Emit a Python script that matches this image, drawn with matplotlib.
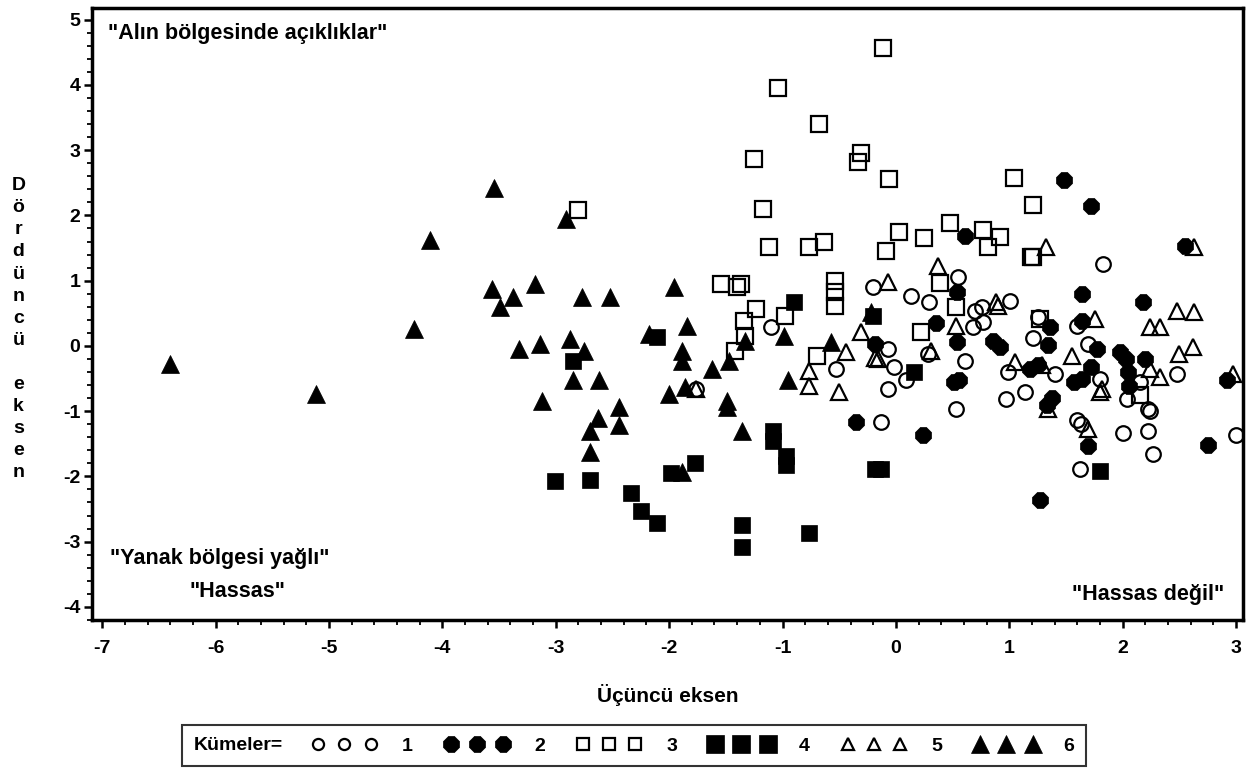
import matplotlib
matplotlib.use("Agg")
import matplotlib.pyplot as plt
from matplotlib.lines import Line2D
from matplotlib.offsetbox import HPacker
from matplotlib.ticker import MultipleLocator

plt.rcParams['font.family'] = ['Liberation Sans', 'DejaVu Sans']
plt.rcParams['font.weight'] = 'bold'

# ---- data ----
# Cluster 1 : open circles
c1_x = [-1.10, -0.20, 0.13, 0.29, 0.55, -0.07, -0.53, -0.02, -0.07, 0.09, 0.28, 0.61,
        0.53, -0.13, -1.76, 0.68, 1.83, 1.01, 0.76, 0.70, 0.77, 1.25, 1.21, 1.69, 1.60,
        0.99, 1.40, 0.97, 1.14, 1.80, 2.04, 2.22, 2.48, 2.15, 2.24, 1.60, 1.63, 2.00,
        2.22, 2.27, 1.62, 3.00]
c1_y = [0.29, 0.91, 0.76, 0.67, 1.05, -0.05, -0.35, -0.32, -0.66, -0.53, -0.12, -0.23,
        -0.96, -1.17, -0.66, 0.29, 1.25, 0.69, 0.59, 0.53, 0.37, 0.44, 0.12, 0.03, 0.31,
        -0.40, -0.43, -0.81, -0.70, -0.50, -0.81, -0.96, -0.43, -0.55, -1.00, -1.14, -1.20,
        -1.34, -1.31, -1.65, -1.88, -1.37]
# Cluster 2 : filled octagons
c2_x = [1.48, 1.72, 0.61, 2.55, 1.64, 2.18, 0.54, 1.64, 1.36, 0.35, 0.54, -0.18, 0.86,
        0.92, 1.34, 1.77, 1.98, 2.03, 2.20, 2.05, 2.06, 1.18, 1.72, 1.57, 1.64, 0.51,
        0.56, 1.38, 1.33, 0.24, -0.35, 1.69, 1.27, 2.75, 2.92, 1.25]
c2_y = [2.55, 2.14, 1.68, 1.53, 0.79, 0.67, 0.82, 0.38, 0.29, 0.35, 0.06, 0.03, 0.08,
        -0.02, 0.02, -0.04, -0.10, -0.20, -0.20, -0.40, -0.62, -0.35, -0.32, -0.55, -0.50,
        -0.56, -0.52, -0.80, -0.91, -1.37, -1.17, -1.54, -2.36, -1.52, -0.53, -0.30]
# Cluster 3 : open squares
c3_x = [-0.11, -1.04, -0.68, -1.25, -0.31, -0.33, -0.06, -2.80, -1.17, -1.12, -0.77, -0.63,
        -0.09, 0.03, -1.54, -1.40, -1.37, -0.54, -0.54, -0.54, 1.04, 1.21, 0.25, 0.48, 0.77,
        0.92, 0.81, 1.19, 1.21, 0.39, -1.23, -1.34, -0.98, -1.33, -1.42, -0.70, 0.53,
        0.22, 2.15, 1.27]
c3_y = [4.56, 3.96, 3.40, 2.87, 2.96, 2.82, 2.56, 2.09, 2.10, 1.52, 1.52, 1.59,
        1.46, 1.74, 0.95, 0.91, 0.95, 0.99, 0.82, 0.61, 2.58, 2.16, 1.66, 1.89, 1.78,
        1.67, 1.51, 1.37, 1.37, 0.97, 0.56, 0.38, 0.46, 0.15, -0.08, -0.15, 0.59,
        0.21, -0.76, 0.41]
# Cluster 4 : filled squares
c4_x = [-3.01, -2.70, -2.34, -2.25, -2.11, -1.98, -1.77, -1.08, -1.08, -0.97, -0.97, -0.18,
        -0.13, -1.36, -1.36, -0.77, -2.85, -2.11, -0.90, -0.20, 0.16, 1.80]
c4_y = [-2.07, -2.06, -2.26, -2.53, -2.71, -1.95, -1.80, -1.31, -1.46, -1.69, -1.83, -1.88,
        -1.88, -2.74, -3.09, -2.87, -0.23, 0.14, 0.67, 0.46, -0.40, -1.92]
# Cluster 5 : open triangles
c5_x = [-0.07, 0.37, 0.53, -0.31, -0.44, -0.77, -0.77, -0.50, -0.16, 0.31, -1.76, 1.32,
        2.63, 0.88, 0.90, 2.48, 2.63, 1.76, 2.24, 2.33, 1.55, 2.50, 2.62, 1.05, 1.29,
        2.33, 2.24, 1.82, 1.80, 1.34, 2.97, 1.69, -0.18]
c5_y = [0.98, 1.22, 0.30, 0.21, -0.09, -0.38, -0.61, -0.70, -0.20, -0.08, -0.66, 1.51,
        1.51, 0.67, 0.61, 0.53, 0.52, 0.41, 0.29, 0.29, -0.15, -0.12, -0.02, -0.24, -0.30,
        -0.47, -0.35, -0.66, -0.70, -0.96, -0.43, -1.27, -0.18]
# Cluster 6 : filled triangles
c6_x = [-6.40, -5.11, -4.25, -4.11, -3.54, -3.56, -3.49, -3.38, -3.32, -3.18, -3.14, -3.12,
        -2.91, -2.87, -2.85, -2.77, -2.75, -2.70, -2.70, -2.63, -2.62, -2.52, -2.44, -2.44,
        -2.18, -1.96, -1.84, -1.89, -1.89, -2.00, -1.86, -1.89, -1.62, -1.47, -1.33, -1.49,
        -1.49, -1.36, -0.99, -0.95, -0.57, -0.22]
c6_y = [-0.27, -0.73, 0.26, 1.62, 2.42, 0.87, 0.59, 0.75, -0.05, 0.95, 0.03, -0.85,
        1.95, 0.11, -0.53, 0.75, -0.08, -1.30, -1.62, -1.11, -0.53, 0.75, -0.93, -1.22,
        0.18, 0.90, 0.30, -0.08, -0.23, -0.73, -0.63, -1.94, -0.35, -0.23, 0.08, -0.85,
        -0.93, -1.30, 0.15, -0.53, 0.06, 0.52]

cluster_labels = ["1", "2", "3", "4", "5", "6"]
x_ticks = [-7, -6, -5, -4, -3, -2, -1, 0, 1, 2, 3]
y_ticks = [-4, -3, -2, -1, 0, 1, 2, 3, 4, 5]

# ---- styles ----
styles = [
    dict(marker='o', ms=10.5, mfc='none', mec='black', mew=1.6),
    dict(marker='8', ms=13, mfc='black', mec='black', mew=0.5),
    dict(marker='s', ms=11, mfc='none', mec='black', mew=1.6),
    dict(marker='s', ms=12, mfc='black', mec='black', mew=0.5),
    dict(marker='^', ms=12, mfc='none', mec='black', mew=1.6),
    dict(marker='^', ms=13, mfc='black', mec='black', mew=0.5),
]
legend_ms = [8, 13, 8, 13, 8, 13]

fig = plt.figure(figsize=(12.51, 7.71), dpi=100)
ax = fig.add_axes([0.0735, 0.196, 0.92, 0.7936])

series = [(c1_x, c1_y), (c2_x, c2_y), (c3_x, c3_y), (c4_x, c4_y), (c5_x, c5_y), (c6_x, c6_y)]
for (xs, ys), st in zip(series, styles):
    ax.plot(xs, ys, linestyle='none', **st)

ax.set_xlim(-7.09, 3.06)
ax.set_ylim(-4.20, 5.18)
ax.set_xticks(x_ticks)
ax.set_yticks(y_ticks)
ax.set_xticklabels([str(t) for t in x_ticks])
ax.set_yticklabels([str(t) for t in y_ticks])
ax.xaxis.set_minor_locator(MultipleLocator(0.2))
ax.yaxis.set_minor_locator(MultipleLocator(0.2))
ax.tick_params(which='major', direction='out', length=5.5, width=1.8, labelsize=14)
ax.tick_params(axis='y', which='major', pad=3)
ax.tick_params(axis='x', which='major', pad=9)
ax.tick_params(which='minor', direction='out', length=3.5, width=1.3)
for lab in ax.get_xticklabels() + ax.get_yticklabels():
    lab.set_fontweight('bold')
for sp in ax.spines.values():
    sp.set_linewidth(2.5)

ax.set_xlabel("Üçüncü eksen", fontsize=15, fontweight='bold')
ax.xaxis.set_label_coords(0.5, -0.1225)
ax.xaxis.label.set_va('center')
fig.text(0.0147, 0.573, "\n".join(list("Dördüncü")) + "\n\n" + "\n".join(list("eksen")),
         ha='center', va='center', fontsize=14, fontweight='bold', linespacing=1.39)

ax.text(0.014, 0.958, '"Alın bölgesinde açıklıklar"', transform=ax.transAxes,
        fontsize=15.5, fontweight='bold', ha='left', va='center')
ax.text(0.016, 0.101, '"Yanak bölgesi yağlı"', transform=ax.transAxes,
        fontsize=15.5, fontweight='bold', ha='left', va='center')
ax.text(0.085, 0.046, '"Hassas"', transform=ax.transAxes,
        fontsize=15.5, fontweight='bold', ha='left', va='center')
ax.text(0.984, 0.041, '"Hassas değil"', transform=ax.transAxes,
        fontsize=15.5, fontweight='bold', ha='right', va='center')

# ---- legend ----
handles = []
for st, lms in zip(styles, legend_ms):
    d = dict(st)
    d['ms'] = lms
    handles.append(Line2D([], [], linestyle='none', **d))
leg = fig.legend(handles, cluster_labels, ncol=6, numpoints=3, title="Kümeler=",
                 loc='center', bbox_to_anchor=(0.507, 0.0325), frameon=True,
                 fancybox=False, edgecolor='black', handlelength=3.3,
                 handletextpad=1.3, columnspacing=1.65, borderpad=0.6,
                 prop={'weight': 'bold', 'size': 14},
                 title_fontproperties={'weight': 'bold', 'size': 14})
leg.get_frame().set_linewidth(1.5)
try:
    fs = leg._fontsize
    new_box = HPacker(pad=leg.borderpad * fs, sep=1.5 * fs, align="center",
                      children=[leg._legend_title_box, leg._legend_handle_box])
    new_box.set_figure(fig)
    new_box.set_offset(leg._findoffset)
    leg._legend_box = new_box
except Exception:
    pass

fig.savefig("out.png", dpi=100)
